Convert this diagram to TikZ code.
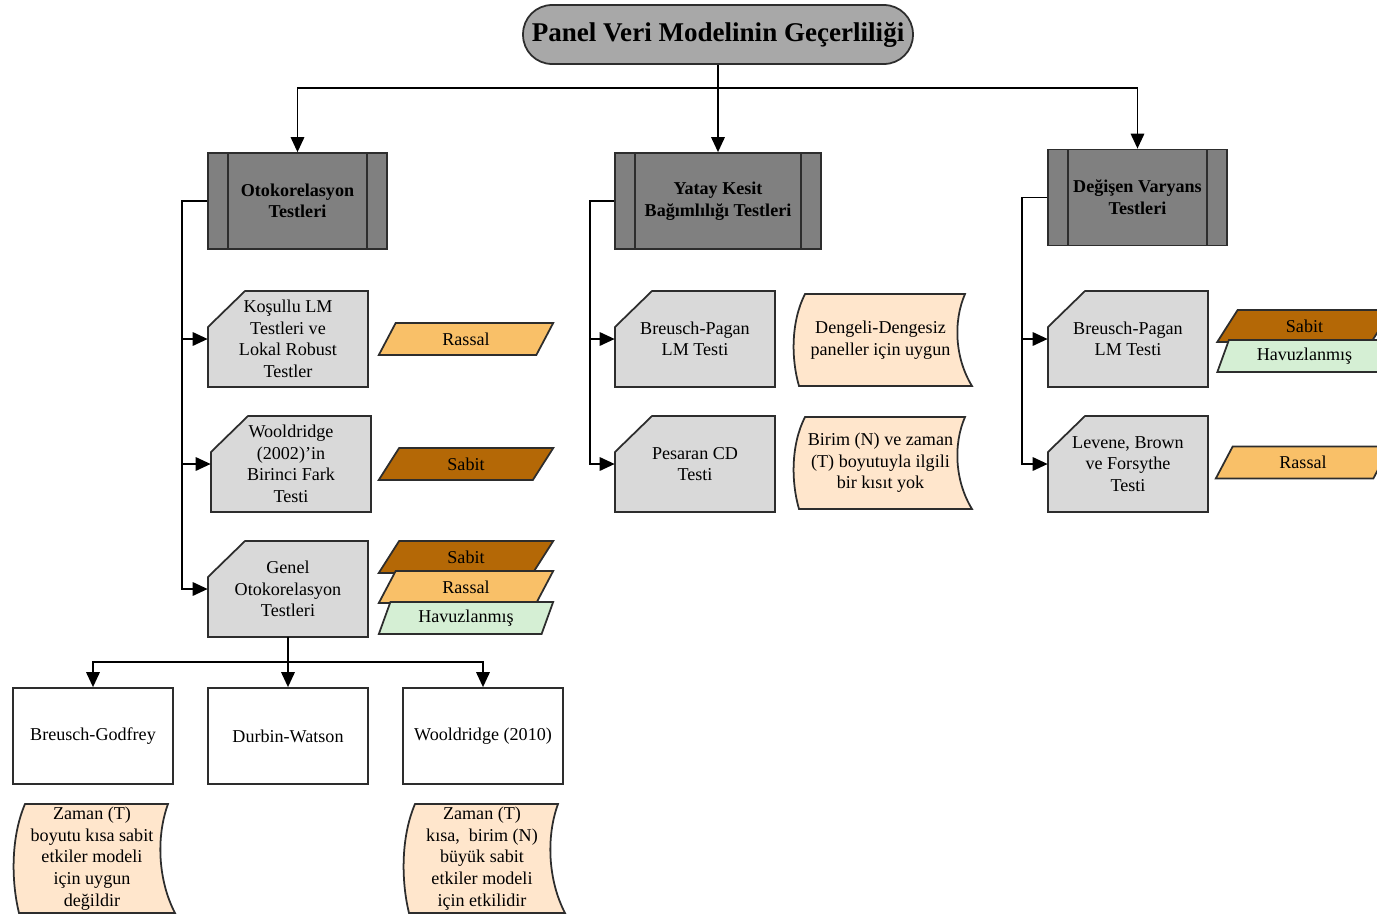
\documentclass[tikz,border=0pt]{standalone}
\usepackage{fontspec}
\setmainfont{Liberation Serif}
\usetikzlibrary{shapes.geometric,arrows.meta}

\definecolor{titlegray}{RGB}{168,168,168}
\definecolor{hdrgray}{RGB}{128,128,128}
\definecolor{cardgray}{RGB}{217,217,217}
\definecolor{linegray}{RGB}{45,45,45}
\definecolor{sabitbrown}{RGB}{180,104,6}
\definecolor{rassalorange}{RGB}{249,192,104}
\definecolor{havuzgreen}{RGB}{213,239,212}
\definecolor{tapepeach}{RGB}{255,230,204}

% cut-corner card: name, centre x, centre y, text
\newcommand{\cardnote}[4]{%
  \path[draw=linegray, fill=cardgray, line width=1pt]
    (#2-80,#3-12) -- (#2-43,#3-48) -- (#2+80,#3-48) -- (#2+80,#3+48) -- (#2-80,#3+48) -- cycle;
  \node[cardbox] (#1) at (#2,#3) {#4};}

% note shape with wavy sides: name, x1, y1, x2, y2, text
\newcommand{\tapenote}[6]{%
  \path[draw=linegray, fill=tapepeach, line width=1pt]
    (#2+12,#3) .. controls (#2-2,{#3+0.3*(#5-#3)}) and (#2-2,{#3+0.7*(#5-#3)}) .. (#2+6,#5)
    -- (#4,#5) .. controls (#4-17,{#3+0.7*(#5-#3)}) and (#4-19,{#3+0.3*(#5-#3)}) .. (#4-7,#3)
    -- cycle;
  \node[align=center] (#1) at ({(#2+#4)/2-2},{(#3+#5)/2}) {#6};}

\begin{document}
\begin{tikzpicture}[x=0.02cm, y=-0.02cm,
  every node/.style={font=\fontsize{10.3}{12.3}\selectfont, text=black},
  arr/.style={-{Triangle[length=0.3cm,width=0.27cm]}, line width=1pt},
  maintitle/.style={draw=linegray, fill=titlegray, line width=1pt, rounded corners=0.58cm,
    minimum width=7.8cm, minimum height=1.18cm, font=\fontsize{15.4}{18}\selectfont\bfseries},
  hdr/.style={draw=linegray, fill=hdrgray, line width=1pt, minimum width=3.58cm,
    minimum height=1.92cm, align=center, font=\fontsize{10.3}{12.3}\selectfont\bfseries,
    path picture={\draw[line width=1pt, linegray]
      ([xshift=0.4cm]path picture bounding box.north west) -- ([xshift=0.4cm]path picture bounding box.south west)
      ([xshift=-0.4cm]path picture bounding box.north east) -- ([xshift=-0.4cm]path picture bounding box.south east);}},
  cardbox/.style={minimum width=3.2cm, minimum height=1.92cm, align=center, inner sep=0pt},
  plainbox/.style={draw=linegray, fill=white, line width=1pt, minimum width=3.2cm,
    minimum height=1.92cm, align=center},
  para/.style={trapezium, trapezium left angle=66, trapezium right angle=114,
    trapezium stretches=true, draw=linegray, line width=1pt,
    minimum width=3.5cm, minimum height=0.64cm, inner sep=0pt}]

  \useasboundingbox (0,0) rectangle (1377,916);

  % Title
  \node[maintitle] (title) at (718,34.5) {Panel Veri Modelinin Geçerliliği};

  % Test groups
  \node[hdr] (otoko) at (297.5,201) {Otokorelasyon\\Testleri};
  \node[hdr, minimum width=4.12cm] (yatay) at (718,201) {Yatay Kesit\\Bağımlılığı Testleri};
  \node[hdr] (degis) at (1137.5,197.5) {Değişen Varyans\\Testleri};

  % Autocorrelation tests
  \cardnote{kosul}{288}{339}{Koşullu LM\\Testleri ve\\Lokal Robust\\Testler}
  \cardnote{wool}{291}{464}{Wooldridge\\(2002)'in\\Birinci Fark\\Testi}
  \cardnote{genel}{288}{589}{Genel\\Otokorelasyon\\Testleri}

  % Cross-section dependence tests
  \cardnote{bpyatay}{695}{339}{Breusch-Pagan\\LM Testi}
  \cardnote{pesaran}{695}{464}{Pesaran CD\\Testi}

  % Heteroskedasticity tests
  \cardnote{bpdegis}{1128}{339}{Breusch-Pagan\\LM Testi}
  \cardnote{levene}{1128}{464}{Levene, Brown\\ve Forsythe\\Testi}

  % Model types
  \node[para, fill=rassalorange] (rassal1) at (466,339) {Rassal};
  \node[para, fill=sabitbrown] (sabit1) at (466,464) {Sabit};
  \node[para, fill=sabitbrown] (sabit2) at (466,557) {Sabit};
  \node[para, fill=rassalorange] (rassal2) at (466,587) {Rassal};
  \node[para, fill=havuzgreen] (havuz1) at (466,618) {Havuzlanmış};
  \node[para, fill=sabitbrown] (sabit3) at (1304.5,326) {Sabit};
  \node[para, fill=havuzgreen] (havuz2) at (1304.5,356) {Havuzlanmış};
  \node[para, fill=rassalorange] (rassal3) at (1303,462.5) {Rassal};

  % General autocorrelation tests
  \node[plainbox] (godfrey) at (93,736) {Breusch-Godfrey};
  \node[plainbox] (durbin) at (288,736) {Durbin-Watson};
  \node[plainbox] (wool10) at (483,736) {Wooldridge (2010)};

  % Notes
  \tapenote{dengeli}{793}{294}{972}{386}{Dengeli-Dengesiz\\paneller için uygun}
  \tapenote{birim}{793}{417}{972}{509}{Birim (N) ve zaman\\(T) boyutuyla ilgili\\bir kısıt yok}
  \tapenote{notegod}{13}{804}{175}{913}{Zaman (T)\\boyutu kısa sabit\\etkiler modeli\\için uygun\\değildir}
  \tapenote{notewool}{403}{804}{565}{913}{Zaman (T)\\kısa,\ \ birim (N)\\büyük sabit\\etkiler modeli\\için etkilidir}

  % Arrows
  \coordinate (split) at (718,88);
  \draw[arr] (title.south) -- (yatay.north);
  \draw[arr] (split) -| (otoko.north);
  \draw[arr] (split) -| (degis.north);

  \draw[arr] (otoko.west) -- ++(-25,0) |- (kosul.west);
  \draw[arr] (otoko.west) -- ++(-25,0) |- (wool.west);
  \draw[arr] (otoko.west) -- ++(-25,0) |- (genel.west);

  \draw[arr] (yatay.west) -- ++(-24,0) |- (bpyatay.west);
  \draw[arr] (yatay.west) -- ++(-24,0) |- (pesaran.west);

  \draw[arr] (degis.west) -- ++(-25,0) |- (bpdegis.west);
  \draw[arr] (degis.west) -- ++(-25,0) |- (levene.west);

  \draw[arr] (genel.south) -- ++(0,25) -| (godfrey.north);
  \draw[arr] (genel.south) -- (durbin.north);
  \draw[arr] (genel.south) -- ++(0,25) -| (wool10.north);
\end{tikzpicture}
\end{document}
